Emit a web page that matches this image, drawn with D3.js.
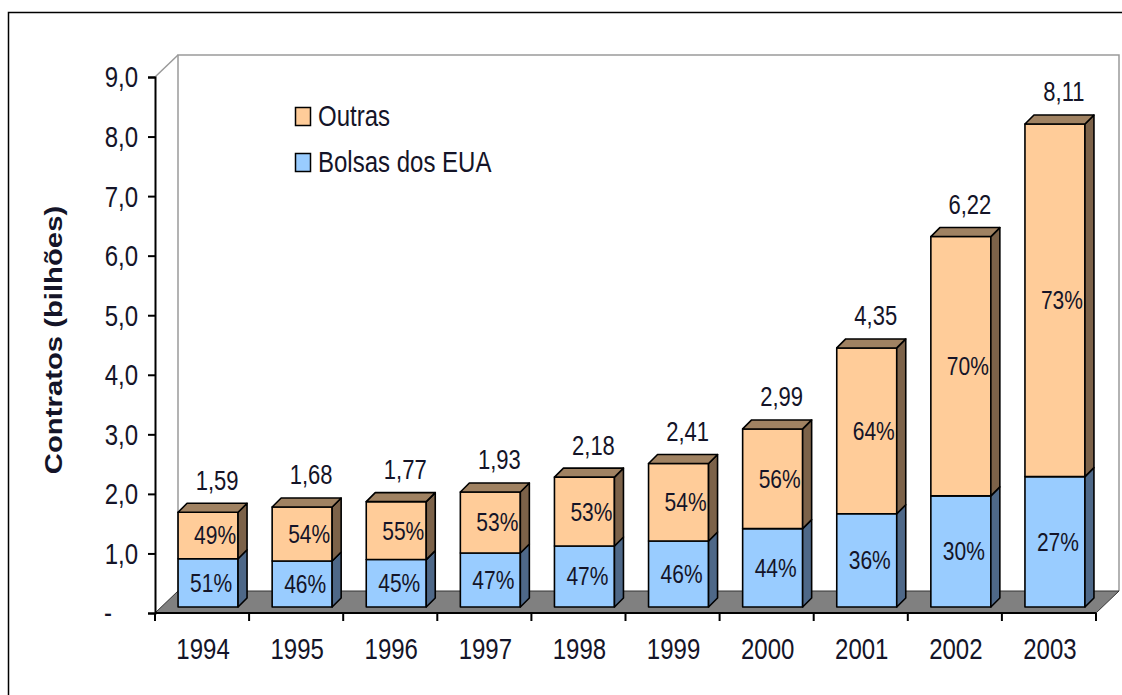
<!DOCTYPE html>
<html>
<head>
<meta charset="utf-8">
<script src="https://cdn.jsdelivr.net/npm/d3@7"></script>
<style>
  html, body { margin: 0; padding: 0; background: #fff; }
  svg { display: block; font-family: "Liberation Sans", Arial, sans-serif; }
</style>
</head>
<body>
<div id="chart"></div>
<script>
const years = ["1994", "1995", "1996", "1997", "1998", "1999", "2000", "2001", "2002", "2003"];
const totals = [1.59, 1.68, 1.77, 1.93, 2.18, 2.41, 2.99, 4.35, 6.22, 8.11];
const pctEUA = [51, 46, 45, 47, 47, 46, 44, 36, 30, 27];
const pctOutras = [49, 54, 55, 53, 53, 54, 56, 64, 70, 73];
const yTicks = [0, 1, 2, 3, 4, 5, 6, 7, 8, 9];
const seriesNames = ["Outras", "Bolsas dos EUA"];

const width = 1122, height = 695;
const SY = 1.22;            // vertical stretch of the text in the original
const depth = { dx: 23, dy: 22 };   // floor / wall depth
const barShift = 6, barDepth = 9;   // bar position inside the depth
const colors = {
    outras: "#FFCC99", outrasTop: "#A08262", outrasSide: "#7C6249",
    eua: "#99CCFF", euaSide: "#4E6888",
    floor: "#808080", text: "#141428"
};

const svg = d3.select("#chart").append("svg")
    .attr("width", width)
    .attr("height", height);

// outer frame
svg.append("rect")
    .attr("x", 8.5).attr("y", 12.5)
    .attr("width", 1130).attr("height", 720)
    .attr("fill", "none").attr("stroke", "#000").attr("stroke-width", 1.5);

const x = d3.scaleBand().domain(years).range([155, 1096]).paddingInner(0).paddingOuter(0);
const y = d3.scaleLinear().domain([0, 9]).range([613, 77]);
const barW = 60;

const x0 = x.range()[0], x1 = x.range()[1];
const yTop = y(9), yBase = y(0);

// back wall
svg.append("path")
    .attr("d", `M${x0 + depth.dx},${yBase - depth.dy} L${x0 + depth.dx},${yTop - depth.dy} L${x1 + depth.dx},${yTop - depth.dy} L${x1 + depth.dx},${yBase - depth.dy}`)
    .attr("fill", "#fff").attr("stroke", "#9a9a9a").attr("stroke-width", 1.5);
// side wall top edge
svg.append("line")
    .attr("x1", x0).attr("y1", yTop).attr("x2", x0 + depth.dx).attr("y2", yTop - depth.dy)
    .attr("stroke", "#9a9a9a").attr("stroke-width", 1.5);

// floor
svg.append("path")
    .attr("d", `M${x0},${yBase} L${x0 + depth.dx},${yBase - depth.dy} L${x1 + depth.dx},${yBase - depth.dy} L${x1},${yBase} Z`)
    .attr("fill", colors.floor).attr("stroke", "#333").attr("stroke-width", 1);

// y axis
const yAxis = svg.append("g")
    .attr("transform", `translate(${x0},0)`)
    .call(d3.axisLeft(y).tickValues(yTicks).tickSize(7).tickPadding(17)
        .tickFormat(d => d === 0 ? "-" : d3.format(".1f")(d).replace(".", ",")));
yAxis.select(".domain").attr("stroke", "#000").attr("stroke-width", 2);
yAxis.selectAll(".tick line").attr("stroke", "#000").attr("stroke-width", 2);
yAxis.selectAll(".tick text")
    .attr("font-size", 24).attr("fill", colors.text)
    .attr("font-family", "Liberation Sans, Arial, sans-serif")
    .attr("dy", "0.34em")
    .attr("transform", `scale(1,${SY})`)
    .attr("x", d => d === 0 ? -43 : -17);

// x axis line + boundary ticks
svg.append("line")
    .attr("x1", x0).attr("y1", yBase).attr("x2", x1).attr("y2", yBase)
    .attr("stroke", "#000").attr("stroke-width", 2);
const bounds = years.map(d => x(d)).concat([x1]);
svg.selectAll("line.xtick").data(bounds).enter().append("line")
    .attr("class", "xtick")
    .attr("x1", d => d).attr("x2", d => d)
    .attr("y1", yBase).attr("y2", yBase + 8)
    .attr("stroke", "#000").attr("stroke-width", 2);

const xAxis = svg.append("g")
    .attr("transform", `translate(0,${yBase})`)
    .call(d3.axisBottom(x).tickSize(0).tickPadding(0));
xAxis.select(".domain").remove();
xAxis.selectAll(".tick text")
    .attr("font-size", 24).attr("fill", colors.text)
    .attr("font-family", "Liberation Sans, Arial, sans-serif")
    .attr("y", 0).attr("dy", "0.34em")
    .attr("transform", `translate(1,36) scale(1,${SY})`);

// bars
const rows = years.map((yr, i) => {
    const eua = totals[i] * pctEUA[i] / 100;
    return { year: yr, total: totals[i], eua: eua, pEua: pctEUA[i], pOut: pctOutras[i] };
});

function face(g, pts, fill) {
    g.append("path")
        .attr("d", "M" + pts.map(p => p.join(",")).join("L") + "Z")
        .attr("fill", fill).attr("stroke", "#000").attr("stroke-width", 1.6)
        .attr("stroke-linejoin", "round");
}

function stretchText(g, px, py, txt, size, anchor) {
    return g.append("text")
        .attr("transform", `translate(${px},${py}) scale(1,${SY})`)
        .attr("text-anchor", anchor || "middle")
        .attr("dy", "0.35em")
        .attr("font-size", size)
        .attr("fill", colors.text)
        .text(txt);
}

const bars = svg.append("g");
rows.forEach(d => {
    const g = bars.append("g");
    const left = x(d.year) + (x.bandwidth() - barW) / 2 + barShift;
    const right = left + barW;
    const yb = y(0) - barShift;
    const ym = y(d.eua) - barShift;
    const yt = y(d.total) - barShift;
    const b = barDepth;

    // Bolsas dos EUA segment
    face(g, [[left, yb], [right, yb], [right, ym], [left, ym]], colors.eua);
    face(g, [[right, yb], [right + b, yb - b], [right + b, ym - b], [right, ym]], colors.euaSide);
    // Outras segment
    face(g, [[left, ym], [right, ym], [right, yt], [left, yt]], colors.outras);
    face(g, [[right, ym], [right + b, ym - b], [right + b, yt - b], [right, yt]], colors.outrasSide);
    face(g, [[left, yt], [right, yt], [right + b, yt - b], [left + b, yt - b]], colors.outrasTop);

    const cx = (left + right) / 2;
    stretchText(g, cx + 3, (yb + ym) / 2, d.pEua + "%", 21);
    stretchText(g, cx + 7, (ym + yt) / 2, d.pOut + "%", 21);
    stretchText(g, cx + 9, yt - 32, d3.format(".2f")(d.total).replace(".", ","), 22);
});

// legend
const legend = svg.append("g").attr("transform", "translate(295,107)");
[colors.outras, colors.eua].forEach((c, i) => {
    legend.append("rect")
        .attr("x", 0.5).attr("y", i * 46 + 0.5)
        .attr("width", 15).attr("height", 18)
        .attr("fill", c).attr("stroke", "#000").attr("stroke-width", 1.5);
    stretchText(legend, 23, i * 46 + 9, seriesNames[i], 24, "start");
});

// y axis title
svg.append("text")
    .attr("transform", `translate(62,340) rotate(-90) scale(${SY},1)`)
    .attr("text-anchor", "middle")
    .attr("font-size", 24)
    .attr("font-weight", "bold")
    .attr("fill", colors.text)
    .text("Contratos (bilhões)");
</script>
</body>
</html>
